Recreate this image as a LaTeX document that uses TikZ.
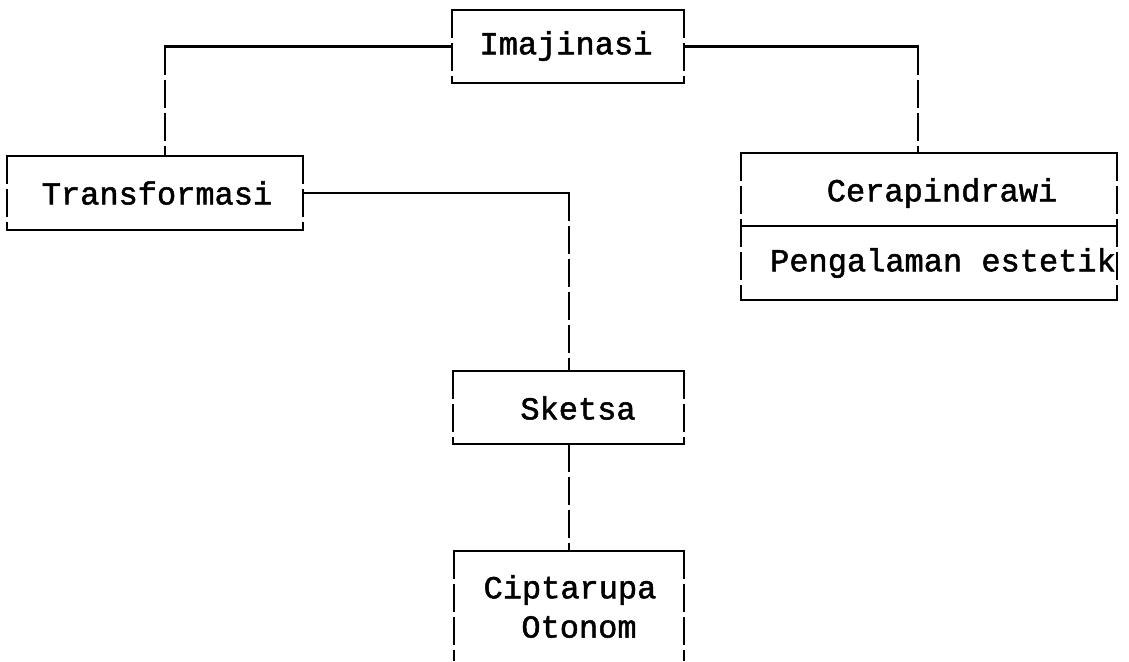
\documentclass[tikz,border=0pt]{standalone}
\usepackage{fontspec}
\newfontfamily\tw{Liberation Mono}[BoldFont={Liberation Mono},BoldFeatures={FakeBold=1.6}]
\begin{document}
\begin{tikzpicture}[x=1pt,y=-1pt,
  box/.style={draw=none,inner sep=0pt,outer sep=0pt},
  lbl/.style={font=\tw\bfseries\fontsize{32}{36}\selectfont,inner sep=0pt,anchor=center},
  hline/.style={line width=2.2pt,line cap=rect},
  vline/.style={line width=2.4pt,dash pattern=on 28pt off 5pt}]
\useasboundingbox (0,0) rectangle (1129,661);
% boxes (named, borders drawn below)
\node[box,minimum width=232pt,minimum height=73pt] (imaj) at (568,46.5) {};
\node[box,minimum width=296pt,minimum height=74pt] (trans) at (155,193) {};
\node[box,minimum width=376pt,minimum height=73pt] (cera) at (929,189.5) {};
\node[box,minimum width=376pt,minimum height=74pt] (peng) at (929,263) {};
\node[box,minimum width=231pt,minimum height=73pt] (sket) at (568.5,407.5) {};
\node[box,minimum width=230pt,minimum height=110pt] (cipt) at (569,606) {};
% labels
\node[lbl] (timaj) at (566,46) {Imajinasi};
\node[lbl] (ttrans) at (157,193) {Transformasi};
\node[lbl] (tcera) at (942,193) {Cerapindrawi};
\node[lbl] (tpeng) at (943,263) {Pengalaman estetik};
\node[lbl] (tsket) at (578,408) {Sketsa};
\node[lbl] (tcipt) at (570,590) {Ciptarupa};
\node[lbl] (toton) at (579,627) {Otonom};
% box borders
\foreach \n in {imaj,trans,sket}{
  \draw[hline] (\n.north west) -- (\n.north east);
  \draw[hline] (\n.south west) -- (\n.south east);
  \draw[vline] (\n.north west) -- (\n.south west);
  \draw[vline] (\n.north east) -- (\n.south east);
}
\draw[hline] (cera.north west) -- (cera.north east);
\draw[hline] (cera.south west) -- (cera.south east);
\draw[hline] (peng.south west) -- (peng.south east);
\draw[vline] (cera.north west) -- (peng.south west);
\draw[vline] (cera.north east) -- (peng.south east);
\draw[hline] (cipt.north west) -- (cipt.north east);
\draw[vline] (cipt.north west) -- (cipt.south west);
\draw[vline] (cipt.north east) -- (cipt.south east);
% connector anchors
\coordinate (ct) at (165,156);
\coordinate (cc) at (918,153);
\coordinate (cs) at (569,371);
\coordinate (cb) at (569,444);
\coordinate (cp) at (569,551);
% connectors
\draw[hline] (imaj.west) -- (imaj.west -| ct);
\draw[vline] (imaj.west -| ct) -- (ct);
\draw[hline] (imaj.east) -- (imaj.east -| cc);
\draw[vline] (imaj.east -| cc) -- (cc);
\draw[hline] (trans.east) -- (trans.east -| cs);
\draw[vline] (trans.east -| cs) -- (cs);
\draw[vline] (cb) -- (cp);
\end{tikzpicture}
\end{document}
